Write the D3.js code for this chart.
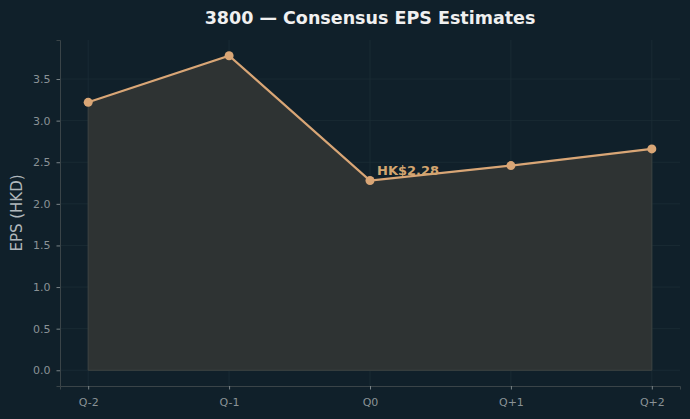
<!DOCTYPE html>
<html>
<head>
<meta charset="utf-8">
<script src="https://cdn.jsdelivr.net/npm/d3@7"></script>
<style>
  body { margin: 0; background: #10202a; }
  svg { display: block; font-family: "DejaVu Sans", sans-serif; }
</style>
</head>
<body>
<script>
// consensus EPS by quarter
var quarters = ["Q-2", "Q-1", "Q0", "Q+1", "Q+2"];
var eps = [3.22, 3.78, 2.28, 2.46, 2.66];
var yTicks = [0, 0.5, 1.0, 1.5, 2.0, 2.5, 3.0, 3.5];
var currentIdx = 2;

var width = 690, height = 419;
var m = {left: 60, right: 10, top: 40, bottom: 33};

var svg = d3.select("body").append("svg")
    .attr("width", width).attr("height", height);
svg.append("rect").attr("width", width).attr("height", height).attr("fill", "#10202a");

var x = d3.scaleLinear().domain([-0.2, quarters.length - 1 + 0.2])
    .range([m.left, width - m.right]);
var yMax = d3.max(eps);
var y = d3.scaleLinear().domain([-0.05 * yMax, yMax * 1.05])
    .range([height - m.bottom, m.top]);

// grid
var grid = svg.append("g");
grid.selectAll(".gy").data(yTicks).enter().append("line")
    .attr("x1", m.left).attr("x2", width - m.right)
    .attr("y1", function(d) { return y(d); }).attr("y2", function(d) { return y(d); })
    .attr("stroke", "#1c2d36").attr("stroke-width", 0.8);
grid.selectAll(".gx").data(quarters).enter().append("line")
    .attr("x1", function(d, i) { return x(i); }).attr("x2", function(d, i) { return x(i); })
    .attr("y1", m.top).attr("y2", height - m.bottom)
    .attr("stroke", "#1c2d36").attr("stroke-width", 0.8);

// area
var area = d3.area()
    .x(function(d, i) { return x(i); })
    .y0(y(0))
    .y1(function(d) { return y(d); });
svg.append("path").datum(eps)
    .attr("d", area)
    .attr("fill", "#2e3333")
    .attr("stroke", "#3e4442").attr("stroke-width", 1);

// line
var line = d3.line().x(function(d, i) { return x(i); }).y(function(d) { return y(d); });
svg.append("path").datum(eps)
    .attr("d", line)
    .attr("fill", "none").attr("stroke", "#d9a676").attr("stroke-width", 2.2);

svg.selectAll(".pt").data(eps).enter().append("circle")
    .attr("cx", function(d, i) { return x(i); })
    .attr("cy", function(d) { return y(d); })
    .attr("r", 4.5).attr("fill", "#d9a676");

// annotation
svg.append("text")
    .attr("x", x(currentIdx) + 7).attr("y", y(eps[currentIdx]) - 6)
    .attr("fill", "#d3a56f").attr("font-size", 13).attr("font-weight", "bold")
    .text("HK$" + eps[currentIdx].toFixed(2));

// axes
var yAxis = svg.append("g").attr("transform", "translate(" + m.left + ",0)")
    .call(d3.axisLeft(y).tickValues(yTicks).tickFormat(d3.format(".1f")).tickSizeOuter(0).tickSize(3.5).tickPadding(6));
var xAxis = svg.append("g").attr("transform", "translate(0," + (height - m.bottom) + ")")
    .call(d3.axisBottom(x).tickValues(d3.range(quarters.length))
        .tickFormat(function(i) { return quarters[i]; }).tickSizeOuter(0).tickSize(3.5).tickPadding(9));
[xAxis, yAxis].forEach(function(a) {
    a.select(".domain").attr("stroke", "#3a4448");
    a.selectAll(".tick line").attr("stroke", "#7a8488");
    a.selectAll(".tick text").attr("fill", "#8a9296").attr("font-size", 11)
        .attr("font-family", "DejaVu Sans, sans-serif");
});

// title & label
svg.append("text").attr("x", (m.left + width - m.right) / 2).attr("y", 24)
    .attr("text-anchor", "middle").attr("fill", "#f0f0f0")
    .attr("font-size", 17.5).attr("font-weight", "bold")
    .text("3800 — Consensus EPS Estimates");
svg.append("text")
    .attr("transform", "translate(22," + ((m.top + height - m.bottom) / 2) + ") rotate(-90)")
    .attr("text-anchor", "middle").attr("fill", "#b0b8bc").attr("font-size", 15)
    .text("EPS (HKD)");
</script>
</body>
</html>
